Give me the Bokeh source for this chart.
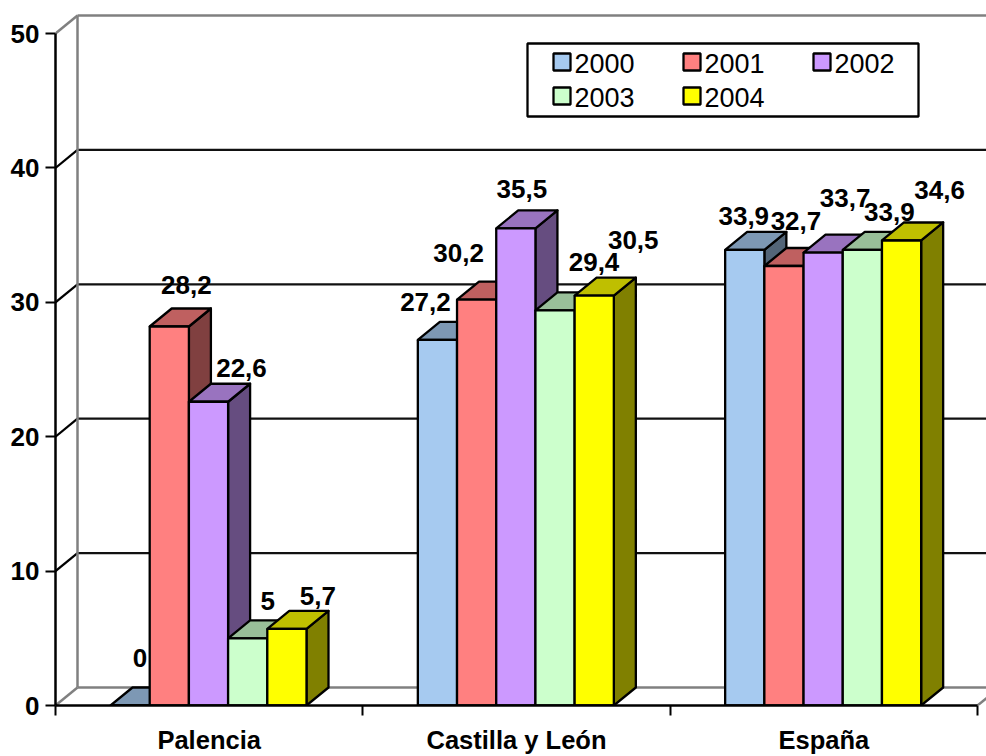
from bokeh.core.properties import value
from bokeh.embed import file_html
from bokeh.models import ColumnDataSource, FixedTicker, LinearAxis, Range1d
from bokeh.plotting import figure
from bokeh.resources import INLINE

regions = ["Palencia", "Castilla y León", "España"]
years = ["2000", "2001", "2002", "2003", "2004"]
rate_2000 = [0, 27.2, 33.9]
rate_2001 = [28.2, 30.2, 32.7]
rate_2002 = [22.6, 35.5, 33.7]
rate_2003 = [5, 29.4, 33.9]
rate_2004 = [5.7, 30.5, 34.6]
series = [rate_2000, rate_2001, rate_2002, rate_2003, rate_2004]
y_ticks = [0, 10, 20, 30, 40, 50]

front_colors = ["#A6CAF0", "#FF8080", "#CC99FF", "#CCFFCC", "#FFFF00"]
top_colors = ["#7D98B4", "#BF6060", "#9973BF", "#99BF99", "#BFBF00"]
side_colors = ["#536578", "#804040", "#664D80", "#668066", "#808000"]

# Hand-placed label offsets in pixels, from the top-centre of each bar's front face.
label_dx = [[10, -12, -1], [17, -18, 12], [33, 6, 22], [20, 39, 27], [31, 39, 38]]
label_dy = [[-48, -38, -34], [-41, -47, -45], [-34, -39, -55], [-37, -48, -38], [-33, -56, -50]]

PX_X = 307.33   # pixels per category
PX_Y = 13.44    # pixels per value unit
LEFT, BOTTOM = 55, 705
DEPTH_X = 22 / PX_X
DEPTH_Y = 18 / PX_Y
BAR_START = 55 / PX_X
BAR_W = 39.2 / PX_X
FONT = value("Liberation Sans")


def px_x(x):
    return (x - LEFT) / PX_X


def px_y(y):
    return (BOTTOM - y) / PX_Y


p = figure(
    width=986, height=756, output_backend="svg", toolbar_location=None,
    x_range=Range1d(0, (986 - LEFT) / PX_X), y_range=Range1d(0, BOTTOM / PX_Y),
    x_axis_location=None, y_axis_location=None,
    min_border_left=LEFT, min_border_right=0, min_border_top=0, min_border_bottom=756 - BOTTOM,
    outline_line_color=None, background_fill_color="white", border_fill_color="white",
)
p.grid.visible = False

# Walls and floor of the 3-D box
x_end = p.x_range.end
for v in y_ticks[1:-1]:
    p.line([DEPTH_X, x_end], [v + DEPTH_Y] * 2, line_color="#111111", line_width=2.2)
    p.line([0, DEPTH_X], [v, v + DEPTH_Y], line_color="black", line_width=2.2)
p.line([DEPTH_X, x_end], [50 + DEPTH_Y] * 2, line_color="#808080", line_width=2.5)
p.line([DEPTH_X, x_end], [DEPTH_Y] * 2, line_color="#808080", line_width=2.5)
p.line([DEPTH_X, DEPTH_X], [DEPTH_Y, 50 + DEPTH_Y], line_color="#808080", line_width=2.5)
p.line([0, DEPTH_X], [50, 50 + DEPTH_Y], line_color="#808080", line_width=2.5)
p.line([0, DEPTH_X], [0, DEPTH_Y], line_color="#808080", line_width=2.5)
p.line([3, 3 + DEPTH_X], [0, DEPTH_Y], line_color="#808080", line_width=2.5)

# Bars: side, top, then front, painted from the first year to the last
for j, vals in enumerate(series):
    lefts = [i + BAR_START + j * BAR_W for i in range(len(regions))]
    rights = [l + BAR_W for l in lefts]
    side_xs = [[r, r + DEPTH_X, r + DEPTH_X, r] for r in rights]
    side_ys = [[0, DEPTH_Y, v + DEPTH_Y, v] for v in vals]
    top_xs = [[l, l + DEPTH_X, r + DEPTH_X, r] for l, r in zip(lefts, rights)]
    top_ys = [[v, v + DEPTH_Y, v + DEPTH_Y, v] for v in vals]
    p.patches(side_xs, side_ys, fill_color=side_colors[j], line_color="black", line_width=2.3, line_join="round")
    p.patches(top_xs, top_ys, fill_color=top_colors[j], line_color="black", line_width=2.3, line_join="round")
    p.quad(left=lefts, right=rights, bottom=[0] * len(vals), top=vals,
           fill_color=front_colors[j], line_color="black", line_width=2.3)

# Value labels
for j, vals in enumerate(series):
    src = ColumnDataSource(dict(
        x=[i + BAR_START + (j + 0.5) * BAR_W for i in range(len(regions))],
        y=vals,
        text=[f"{v:g}".replace(".", ",") for v in vals],
        dx=label_dx[j],
        dy=label_dy[j],
    ))
    p.text("x", "y", text="text", source=src, x_offset="dx", y_offset="dy",
           text_align="center", text_baseline="middle", text_font=FONT,
           text_font_style="bold", text_font_size="26px", text_color="black")

# Legend box with two rows of swatches
p.quad(left=[px_x(527)], right=[px_x(918)], bottom=[px_y(116)], top=[px_y(43)],
       fill_color="white", line_color="black", line_width=2.3)
legend_x = [553, 683, 813, 553, 683]
legend_y = [53, 53, 53, 87, 87]
for j, year in enumerate(years):
    x0, y0 = legend_x[j], legend_y[j]
    p.quad(left=[px_x(x0)], right=[px_x(x0 + 17)], bottom=[px_y(y0 + 17)], top=[px_y(y0)],
           fill_color=front_colors[j], line_color="black", line_width=2.3)
    p.text([px_x(x0 + 21)], [px_y(y0 + 10)], text=[year], text_align="left", text_baseline="middle",
           text_font=FONT, text_font_size="27px", text_color="black")

# Axes
left_axis = LinearAxis(ticker=FixedTicker(ticks=y_ticks), bounds=(0, 50))
left_axis.axis_line_color = "black"
left_axis.axis_line_width = 2.5
left_axis.major_tick_in = 0
left_axis.major_tick_out = 10
left_axis.major_tick_line_width = 2
left_axis.minor_tick_line_color = None
left_axis.major_label_standoff = 6
left_axis.major_label_text_font = "Liberation Sans"
left_axis.major_label_text_font_style = "bold"
left_axis.major_label_text_font_size = "26px"
left_axis.major_label_text_color = "black"
p.add_layout(left_axis, "left")

bottom_axis = LinearAxis(
    ticker=FixedTicker(ticks=[0.5, 1.5, 2.5], minor_ticks=[0, 1, 2, 3]), bounds=(0, 3),
    major_label_overrides={i + 0.5: name for i, name in enumerate(regions)},
)
bottom_axis.axis_line_color = "black"
bottom_axis.axis_line_width = 2.5
bottom_axis.major_tick_line_color = None
bottom_axis.major_tick_in = 0
bottom_axis.major_tick_out = 0
bottom_axis.minor_tick_in = 0
bottom_axis.minor_tick_out = 10
bottom_axis.minor_tick_line_color = "black"
bottom_axis.minor_tick_line_width = 2
bottom_axis.major_label_standoff = 10
bottom_axis.major_label_text_font = "Liberation Sans"
bottom_axis.major_label_text_font_style = "bold"
bottom_axis.major_label_text_font_size = "25.5px"
bottom_axis.major_label_text_color = "black"
p.add_layout(bottom_axis, "below")

open("out.html", "w").write(file_html(p, INLINE))
